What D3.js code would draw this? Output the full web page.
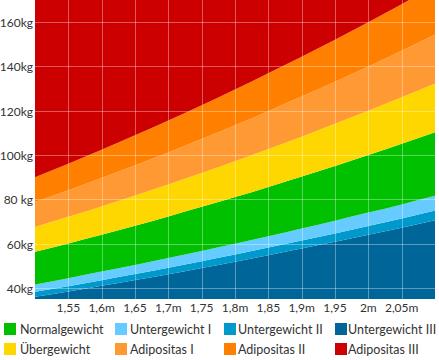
<!DOCTYPE html>
<html><head><meta charset="utf-8">
<script src="https://cdn.jsdelivr.net/npm/d3@7"></script>
<style>body{margin:0;background:#fff}svg{display:block}text{font-family:Lato,"Open Sans",sans-serif;fill:#333}</style>
</head><body><svg id="c" width="439" height="360"></svg>
<script>
const heights = [1.50,1.55,1.60,1.65,1.70,1.75,1.80,1.85,1.90,1.95,2.00,2.05,2.10];
// upper weight boundaries (kg) of each class at each height
const untergewicht3 = [36.0,38.4,41.0,43.6,46.2,49.0,51.8,54.8,57.8,60.8,64.0,67.2,70.6];
const untergewicht2 = [38.3,40.8,43.5,46.3,49.1,52.1,55.1,58.2,61.4,64.6,68.0,71.4,75.0];
const untergewicht1 = [41.6,44.4,47.4,50.4,53.5,56.7,59.9,63.3,66.8,70.3,74.0,77.7,81.6];
const normalgewicht = [56.3,60.1,64.0,68.1,72.3,76.6,81.0,85.6,90.3,95.1,100.0,105.1,110.3];
const uebergewicht  = [67.5,72.1,76.8,81.7,86.7,91.9,97.2,102.7,108.3,114.1,120.0,126.1,132.3];
const adipositas1   = [78.8,84.1,89.6,95.3,101.2,107.2,113.4,119.8,126.4,133.1,140.0,147.1,154.4];
const adipositas2   = [90.0,96.1,102.4,108.9,115.6,122.5,129.6,136.9,144.4,152.1,160.0,168.1,176.4];
const xTicks = [1.55,1.60,1.65,1.70,1.75,1.80,1.85,1.90,1.95,2.00,2.05];
const xTickLabels = ["1,55","1,6m","1,65","1,7m","1,75","1,8m","1,85","1,9m","1,95","2m","2,05m"];
const yTicks = [40,60,80,100,120,140,160];
const yTickLabels = ["40kg","60kg","80 kg","100kg","120kg","140kg","160kg"];
const legendNames = ["Normalgewicht","Untergewicht I","Untergewicht II","Untergewicht III","Übergewicht","Adipositas I","Adipositas II","Adipositas III"];
const legendColors = ["#00c000","#66ccff","#0099cc","#006699","#ffd700","#ff9933","#ff8000","#cc0000"];

const yMin = 35, yMax = 170;
const bands = [
  {lo:null, hi:untergewicht3, color:"#006699"},
  {lo:untergewicht3, hi:untergewicht2, color:"#0099cc"},
  {lo:untergewicht2, hi:untergewicht1, color:"#66ccff"},
  {lo:untergewicht1, hi:normalgewicht, color:"#00c000"},
  {lo:normalgewicht, hi:uebergewicht, color:"#ffd700"},
  {lo:uebergewicht, hi:adipositas1, color:"#ff9933"},
  {lo:adipositas1, hi:adipositas2, color:"#ff8000"},
  {lo:adipositas2, hi:null, color:"#cc0000"}
];

const svg = d3.select("#c");
const L = 35, R = 435, T = 0, B = 299;
const x = d3.scaleLinear().domain([1.50,2.10]).range([L,R]);
const y = d3.scaleLinear().domain([yMin,yMax]).range([B,T]);

svg.append("clipPath").attr("id","clip").append("rect")
  .attr("x",L).attr("y",T).attr("width",R-L).attr("height",B-T);
const g = svg.append("g").attr("clip-path","url(#clip)");

bands.forEach(b=>{
  const area = d3.area()
    .x((d,i)=>x(heights[i]))
    .y0((d,i)=>y(b.lo ? b.lo[i] : yMin-5))
    .y1((d,i)=>y(b.hi ? b.hi[i] : yMax+10))
    .curve(d3.curveMonotoneX);
  g.append("path").datum(heights).attr("d",area).attr("fill",b.color);
});

// grid
g.selectAll(".vx").data(xTicks).enter().append("line")
  .attr("x1",d=>Math.round(x(d))+0.5).attr("x2",d=>Math.round(x(d))+0.5)
  .attr("y1",T).attr("y2",B)
  .attr("stroke","#fff").attr("stroke-opacity",0.35).attr("stroke-width",1);
g.selectAll(".hy").data(yTicks).enter().append("line")
  .attr("y1",d=>Math.round(y(d))+0.5).attr("y2",d=>Math.round(y(d))+0.5)
  .attr("x1",L).attr("x2",R)
  .attr("stroke","#fff").attr("stroke-opacity",0.35).attr("stroke-width",1);

// axes labels
svg.selectAll(".xl").data(xTicks).enter().append("text")
  .attr("x",d=>x(d)).attr("y",B+13).attr("text-anchor","middle")
  .attr("font-size",12).text((d,i)=>xTickLabels[i]);
svg.selectAll(".yl").data(yTicks).enter().append("text")
  .attr("x",L-2).attr("y",d=>y(d)+5).attr("text-anchor","end")
  .attr("font-size",12).text((d,i)=>yTickLabels[i]);

// legend
const swX = [4,115,224,335], txX = [20,130,238,348];
const lg = svg.append("g");
legendNames.forEach((n,i)=>{
  const col = i%4, row = Math.floor(i/4);
  const ly = 323 + row*20;
  lg.append("rect").attr("x",swX[col]).attr("y",ly).attr("width",12).attr("height",12).attr("fill",legendColors[i]);
  lg.append("text").attr("x",txX[col]).attr("y",ly+10.5).attr("font-size",12.5).text(n);
});
</script></body></html>
